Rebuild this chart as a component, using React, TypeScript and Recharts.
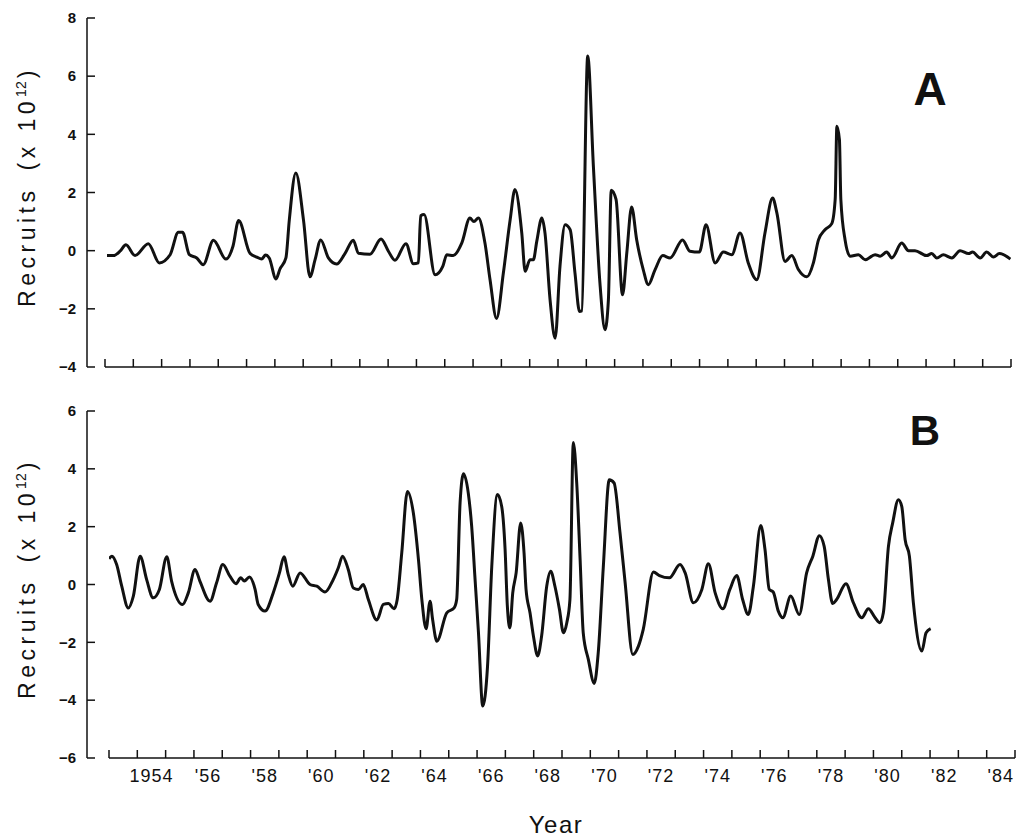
import React from 'react';
import { LineChart, Line, XAxis, YAxis, ReferenceLine, Label } from 'recharts';

// Panel A - time (decimal year) and recruits (x 10^12)
const yearsA = [
  1953.07, 1953.3, 1953.53, 1953.74, 1954.06, 1954.53, 1954.92, 1955.3, 1955.59, 1955.74,
  1955.98, 1956.24, 1956.47, 1956.83, 1957.27, 1957.52, 1957.72, 1958.12, 1958.36, 1958.53,
  1958.67, 1958.8, 1959.04, 1959.18, 1959.39, 1959.51, 1959.74, 1960.01, 1960.24, 1960.42,
  1960.62, 1960.89, 1961.18, 1961.48, 1961.77, 1961.95, 1962.36, 1962.75, 1963.01, 1963.24,
  1963.63, 1963.89, 1964.07, 1964.15, 1964.27, 1964.66, 1964.93, 1965.07, 1965.3, 1965.6,
  1965.89, 1966.03, 1966.19, 1966.42, 1966.6, 1966.83, 1967.07, 1967.31, 1967.48, 1967.72,
  1967.84, 1968.01, 1968.13, 1968.25, 1968.43, 1968.54, 1968.72, 1968.9, 1969.07, 1969.25,
  1969.43, 1969.6, 1969.76, 1969.84, 1970.05, 1970.25, 1970.49, 1970.66, 1970.78, 1970.88,
  1971.05, 1971.28, 1971.43, 1971.6, 1971.78, 1972.01, 1972.19, 1972.43, 1972.7, 1972.96,
  1973.4, 1973.66, 1973.99, 1974.23, 1974.55, 1974.84, 1975.14, 1975.43, 1975.72, 1976.02,
  1976.31, 1976.58, 1976.73, 1977.02, 1977.26, 1977.49, 1977.79, 1978.02, 1978.2, 1978.43,
  1978.67, 1978.79, 1978.85, 1978.94, 1978.99, 1979.14, 1979.32, 1979.61, 1979.85, 1980.2,
  1980.38, 1980.61, 1980.79, 1981.14, 1981.38, 1981.61, 1982.02, 1982.2, 1982.38, 1982.61,
  1982.91, 1983.2, 1983.5, 1983.64, 1983.91, 1984.14, 1984.38, 1984.59, 1984.98,
];
const recruitsA = [
  -0.17, -0.17, -0.02, 0.2, -0.17, 0.24, -0.42, -0.14, 0.63, 0.63,
  -0.14, -0.25, -0.48, 0.36, -0.29, 0.15, 1.04, -0.09, -0.22, -0.29,
  -0.15, -0.25, -0.97, -0.63, -0.25, 1.06, 2.67, 1.06, -0.9, -0.31,
  0.37, -0.25, -0.46, -0.09, 0.36, -0.09, -0.12, 0.4, -0.02, -0.33,
  0.24, -0.45, -0.42, 1.2, 1.24, -0.83, -0.54, -0.14, -0.17, 0.26,
  1.12, 1.0, 1.12, 0.26, -1.0, -2.33, -0.77, 1.06, 2.1, 0.61,
  -0.71, -0.31, -0.31, 0.32, 1.12, 0.61, -1.69, -3.01, -0.54, 0.89,
  0.72, -0.77, -2.09, -2.07, 6.69, 2.9, -1.23, -2.72, -1.69, 2.08,
  1.76, -1.52, -0.08, 1.5, 0.37, -0.65, -1.17, -0.65, -0.17, -0.25,
  0.37, -0.02, -0.05, 0.89, -0.42, -0.05, -0.14, 0.61, -0.42, -1.0,
  0.61, 1.81, 1.3, -0.37, -0.17, -0.65, -0.9, -0.42, 0.37, 0.72,
  0.93, 1.76, 4.28, 3.82, 1.76, 0.37, -0.19, -0.14, -0.31, -0.14,
  -0.19, -0.05, -0.25, 0.26, 0.0, 0.0, -0.17, -0.1, -0.25, -0.14,
  -0.25, 0.0, -0.1, -0.05, -0.25, -0.05, -0.22, -0.1, -0.29,
];

// Panel B
const yearsB = [
  1953.0, 1953.1, 1953.27, 1953.45, 1953.68, 1953.86, 1954.1, 1954.33, 1954.56, 1954.78,
  1955.04, 1955.21, 1955.6, 1955.8, 1956.04, 1956.21, 1956.57, 1956.8, 1957.02, 1957.27,
  1957.49, 1957.65, 1957.78, 1957.96, 1958.16, 1958.27, 1958.51, 1958.8, 1959.02, 1959.18,
  1959.33, 1959.49, 1959.75, 1960.1, 1960.34, 1960.63, 1960.92, 1961.1, 1961.25, 1961.45,
  1961.63, 1961.81, 1961.98, 1962.16, 1962.46, 1962.69, 1962.87, 1963.07, 1963.18, 1963.34,
  1963.54, 1963.75, 1963.93, 1964.05, 1964.2, 1964.34, 1964.43, 1964.58, 1964.93, 1965.19,
  1965.28, 1965.4, 1965.52, 1965.69, 1965.81, 1965.93, 1966.05, 1966.2, 1966.37, 1966.52,
  1966.72, 1966.87, 1966.99, 1967.07, 1967.16, 1967.26, 1967.38, 1967.54, 1967.66, 1967.73,
  1967.87, 1967.99, 1968.14, 1968.28, 1968.46, 1968.6, 1968.75, 1968.91, 1969.05, 1969.17,
  1969.28, 1969.4, 1969.52, 1969.64, 1969.75, 1969.93, 1970.14, 1970.28, 1970.46, 1970.67,
  1970.84, 1971.05, 1971.23, 1971.5, 1971.7, 1971.87, 1972.23, 1972.44, 1972.79, 1973.17,
  1973.35, 1973.64, 1973.94, 1974.17, 1974.41, 1974.68, 1974.93, 1975.17, 1975.38, 1975.58,
  1975.76, 1976.02, 1976.17, 1976.32, 1976.46, 1976.64, 1976.8, 1977.08, 1977.38, 1977.64,
  1977.86, 1978.09, 1978.26, 1978.41, 1978.56, 1978.7, 1979.03, 1979.29, 1979.59, 1979.82,
  1980.06, 1980.23, 1980.35, 1980.53, 1980.68, 1980.88, 1981.0, 1981.12, 1981.27, 1981.41,
  1981.71, 1981.86, 1982.02,
];
const recruitsB = [
  0.89, 0.98, 0.69, -0.06, -0.81, -0.4, 0.98, 0.17, -0.46, -0.17,
  0.96, 0.12, -0.69, -0.29, 0.52, 0.12, -0.58, 0.06, 0.69, 0.29,
  0.03, 0.23, 0.12, 0.26, -0.17, -0.69, -0.92, -0.29, 0.4, 0.96,
  0.35, -0.06, 0.4, 0.0, -0.06, -0.26, 0.17, 0.58, 0.98, 0.52,
  -0.12, -0.17, 0.0, -0.52, -1.23, -0.69, -0.66, -0.84, -0.52, 1.09,
  3.22, 2.47, 0.86, -0.52, -1.53, -0.58, -1.21, -1.96, -0.98, -0.81,
  -0.52, 2.82, 3.83, 3.16, 2.01, 0.17, -1.67, -4.2, -2.82, 0.63,
  3.11, 2.7, 1.21, -0.75, -1.5, -0.29, 0.4, 2.13, 1.09, -0.17,
  -0.98, -1.78, -2.47, -1.78, -0.06, 0.46, -0.06, -0.86, -1.67, -1.32,
  -0.52, 4.91, 3.51, 0.86, -1.67, -2.59, -3.42, -2.36, 0.63, 3.62,
  3.51, 1.78, 0.06, -2.42, -2.13, -1.55, 0.43, 0.31, 0.23, 0.69,
  0.4, -0.63, -0.17, 0.72, -0.29, -0.84, -0.17, 0.31, -0.52, -1.04,
  -0.06, 2.04, 1.21, -0.17, -0.26, -0.92, -1.15, -0.4, -1.04, 0.4,
  0.98, 1.69, 1.32, 0.17, -0.66, -0.52, 0.03, -0.63, -1.15, -0.84,
  -1.15, -1.32, -0.98, 1.32, 2.13, 2.93, 2.7, 1.55, 0.98, -0.63,
  -2.3, -1.67, -1.53,
];

const yearTicks = [
  1953, 1954, 1955, 1956, 1957, 1958, 1959, 1960, 1961, 1962, 1963, 1964, 1965, 1966, 1967, 1968, 1969,
  1970, 1971, 1972, 1973, 1974, 1975, 1976, 1977, 1978, 1979, 1980, 1981, 1982, 1983, 1984, 1985,
];
// year labels sit between the yearly tick marks
const labelYears = [
  1954.5, 1956.5, 1958.5, 1960.5, 1962.5, 1964.5, 1966.5, 1968.5,
  1970.5, 1972.5, 1974.5, 1976.5, 1978.5, 1980.5, 1982.5, 1984.5,
];
const labelText = ['1954', "'56", "'58", "'60", "'62", "'64", "'66", "'68", "'70", "'72", "'74", "'76", "'78", "'80", "'82", "'84"];
const ticksA = [-4, -2, 0, 2, 4, 6, 8];
const ticksB = [-6, -4, -2, 0, 2, 4, 6];

const dataA = yearsA.map((t, i) => ({ t, v: recruitsA[i] }));
const dataB = yearsB.map((t, i) => ({ t, v: recruitsB[i] }));
const ticksXB = [...yearTicks, ...labelYears].sort((a, b) => a - b);

const font = '"Liberation Sans", Arial, sans-serif';
const ink = '#111';

const fmtY = (v: number) => (v < 0 ? '\u2212' + Math.abs(v) : String(v));
const fmtYear = (v: number) => labelText[labelYears.indexOf(v)] ?? '';

// integer years -> short upward tick, half years -> year label below the axis
const YearTick = (props: any) => {
  const { x, y, payload } = props;
  const v = payload.value;
  if (Number.isInteger(v)) {
    return <line x1={x} y1={y} x2={x} y2={y - 8} stroke={ink} strokeWidth={1.5} />;
  }
  return (
    <text
      x={x}
      y={y + 11}
      dy="0.72em"
      textAnchor="middle"
      fill={ink}
      fontFamily={font}
      fontSize={18}
      style={{ letterSpacing: 1 }}
    >
      {fmtYear(v)}
    </text>
  );
};

const YLabel = (props: any) => {
  const vb = props.viewBox;
  const cx = 35;
  const cy = vb.y + vb.height / 2 - 6;
  return (
    <text
      x={cx}
      y={cy}
      transform={`rotate(-90, ${cx}, ${cy})`}
      textAnchor="middle"
      fill={ink}
      fontFamily={font}
      fontSize={23}
      style={{ letterSpacing: 4.5 }}
    >
      Recruits
      <tspan dx={16}>(x 10</tspan>
      <tspan dy={-9} fontSize={14} style={{ letterSpacing: 0 }}>12</tspan>
      <tspan dy={9} dx={3}>)</tspan>
    </text>
  );
};

const yAxisProps = {
  type: 'number' as const,
  width: 87,
  tickSize: -8,
  tickMargin: 19,
  tickFormatter: fmtY,
  axisLine: { stroke: ink, strokeWidth: 1.5 },
  tickLine: { stroke: ink, strokeWidth: 1.5 },
  tick: { fontSize: 15, fontWeight: 'bold', fill: ink, fontFamily: font },
  interval: 0 as const,
};

export default function App() {
  return (
    <div style={{ position: 'absolute', left: 0, top: 0, width: 1020, height: 839, background: '#fff' }}>
      <div style={{ position: 'absolute', left: 0, top: 0 }}>
        <LineChart width={1020} height={400} data={dataA} margin={{ top: 18, right: 9, bottom: 3, left: 0 }}>
          <XAxis
            dataKey="t"
            type="number"
            domain={[1953, 1985]}
            ticks={yearTicks}
            padding={{ left: 18, right: 0 }}
            allowDataOverflow
            axisLine={false}
            tickLine={false}
            tickSize={0}
            tickMargin={0}
            tick={YearTick}
            interval={0}
            height={30}
          />
          <YAxis {...yAxisProps} domain={[-4, 8]} ticks={ticksA}>
            <Label content={YLabel} />
          </YAxis>
          <ReferenceLine
            segment={[{ x: 1953, y: -4 }, { x: 1985, y: -4 }]}
            stroke={ink}
            strokeWidth={1.5}
            ifOverflow="visible"
          />
          <Line
            dataKey="v"
            type="monotone"
            stroke={ink}
            strokeWidth={3}
            strokeLinejoin="round"
            dot={false}
            activeDot={false}
            isAnimationActive={false}
          />
          <text x={930} y={105} textAnchor="middle" fontFamily={font} fontWeight="bold" fontSize={46} fill={ink}>
            A
          </text>
        </LineChart>
      </div>

      <div style={{ position: 'absolute', left: 0, top: 400 }}>
        <LineChart width={1020} height={439} data={dataB} margin={{ top: 11, right: 5, bottom: 0, left: 0 }}>
          <XAxis
            dataKey="t"
            type="number"
            domain={[1953, 1985]}
            ticks={ticksXB}
            padding={{ left: 22, right: 0 }}
            allowDataOverflow
            axisLine={false}
            tickLine={false}
            tickSize={0}
            tickMargin={0}
            tick={YearTick}
            interval={0}
            height={81}
          >
            <Label
              value="Year"
              position="insideBottom"
              offset={6}
              dx={5}
              fill={ink}
              fontFamily={font}
              fontSize={24}
              style={{ letterSpacing: 1.5 }}
            />
          </XAxis>
          <YAxis {...yAxisProps} domain={[-6, 6]} ticks={ticksB}>
            <Label content={YLabel} />
          </YAxis>
          <ReferenceLine
            segment={[{ x: 1953, y: -6 }, { x: 1985, y: -6 }]}
            stroke={ink}
            strokeWidth={1.5}
            ifOverflow="visible"
          />
          <Line
            dataKey="v"
            type="monotone"
            stroke={ink}
            strokeWidth={3}
            strokeLinejoin="round"
            dot={false}
            activeDot={false}
            isAnimationActive={false}
          />
          <text x={925} y={45} textAnchor="middle" fontFamily={font} fontWeight="bold" fontSize={42} fill={ink}>
            B
          </text>
        </LineChart>
      </div>
    </div>
  );
}
